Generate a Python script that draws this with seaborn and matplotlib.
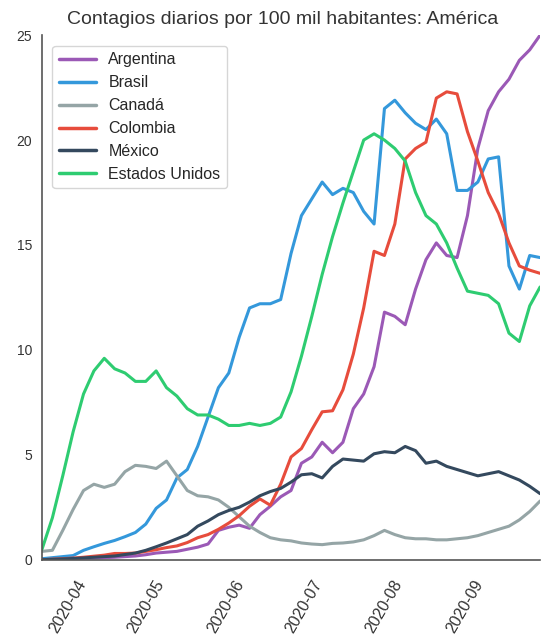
import pandas as pd
import matplotlib
matplotlib.use("Agg")
import matplotlib.pyplot as plt
import matplotlib.dates as mdates
import seaborn as sns

# Fechas (cada 4 días, del 22 de marzo al 30 de septiembre de 2020)
fechas = pd.date_range("2020-03-22", "2020-09-30", freq="4D")

paises = ["Argentina", "Brasil", "Canadá", "Colombia", "México", "Estados Unidos"]

argentina = [0.0, 0.02, 0.03, 0.05, 0.07, 0.08, 0.1, 0.12, 0.15, 0.18, 0.24, 0.32, 0.36,
             0.4, 0.5, 0.6, 0.75, 1.4, 1.55, 1.65, 1.5, 2.15, 2.55, 3.0, 3.3, 4.6, 4.9,
             5.6, 5.1, 5.6, 7.2, 7.9, 9.2, 11.8, 11.6, 11.2, 12.9, 14.3, 15.1, 14.5, 14.4,
             16.4, 19.6, 21.4, 22.3, 22.9, 23.8, 24.3, 25.0]
brasil = [0.05, 0.1, 0.15, 0.2, 0.45, 0.62, 0.78, 0.92, 1.1, 1.3, 1.7, 2.45, 2.85,
          3.9, 4.3, 5.4, 6.8, 8.2, 8.9, 10.6, 12.0, 12.2, 12.2, 12.4, 14.6, 16.4, 17.2,
          18.0, 17.4, 17.7, 17.5, 16.6, 16.0, 21.5, 21.9, 21.3, 20.8, 20.5, 21.0, 20.3,
          17.6, 17.6, 18.0, 19.1, 19.2, 14.0, 12.9, 14.5, 14.4]
canada = [0.4, 0.45, 1.4, 2.4, 3.3, 3.6, 3.45, 3.6, 4.2, 4.5, 4.45, 4.35, 4.7,
          4.0, 3.3, 3.05, 3.0, 2.85, 2.5, 2.05, 1.6, 1.3, 1.05, 0.95, 0.9, 0.8, 0.75,
          0.72, 0.78, 0.8, 0.85, 0.95, 1.15, 1.4, 1.2, 1.05, 1.0, 1.0, 0.95, 0.95,
          1.0, 1.05, 1.15, 1.3, 1.45, 1.6, 1.9, 2.3, 2.8]
colombia = [0.0, 0.03, 0.05, 0.08, 0.12, 0.17, 0.22, 0.3, 0.3, 0.32, 0.4, 0.48, 0.58,
            0.66, 0.82, 1.05, 1.2, 1.45, 1.75, 2.1, 2.55, 2.9, 2.6, 3.6, 4.9, 5.3, 6.2,
            7.05, 7.1, 8.1, 9.8, 12.0, 14.7, 14.5, 16.0, 19.1, 19.6, 19.9, 22.0, 22.3,
            22.2, 20.4, 19.0, 17.5, 16.5, 15.1, 14.0, 13.8, 13.65]
mexico = [0.0, 0.02, 0.04, 0.06, 0.09, 0.12, 0.15, 0.18, 0.25, 0.32, 0.45, 0.62, 0.8,
          1.0, 1.2, 1.6, 1.85, 2.15, 2.35, 2.5, 2.75, 3.05, 3.25, 3.4, 3.7, 4.05, 4.1,
          3.9, 4.45, 4.8, 4.75, 4.7, 5.05, 5.15, 5.1, 5.4, 5.2, 4.6, 4.7, 4.45,
          4.3, 4.15, 4.0, 4.1, 4.2, 4.0, 3.8, 3.5, 3.15]
estados_unidos = [0.5, 2.0, 4.0, 6.1, 7.9, 9.0, 9.6, 9.1, 8.9, 8.5, 8.5, 9.0, 8.2,
                  7.8, 7.2, 6.9, 6.9, 6.7, 6.4, 6.4, 6.5, 6.4, 6.5, 6.8, 8.0, 9.7, 11.6,
                  13.6, 15.4, 17.0, 18.5, 20.0, 20.3, 20.0, 19.6, 19.0, 17.5, 16.4, 16.0,
                  15.1, 13.9, 12.8, 12.7, 12.6, 12.2, 10.8, 10.4, 12.1, 13.0]

series = [argentina, brasil, canada, colombia, mexico, estados_unidos]
df = pd.concat(
    [pd.DataFrame({"fecha": fechas, "pais": p, "casos": v}) for p, v in zip(paises, series)],
    ignore_index=True,
)

sns.set_style("white")
plt.rcParams["font.family"] = ["Liberation Sans", "DejaVu Sans"]

colores = ["#9b59b6", "#3498db", "#95a5a6", "#e74c3c", "#34495e", "#2ecc71"]

fig = plt.figure(figsize=(5.42, 6.39), dpi=100)
ax = fig.add_axes([0.0775, 0.124, 0.919, 0.821])
sns.lineplot(data=df, x="fecha", y="casos", hue="pais", palette=colores,
             linewidth=2.2, ax=ax)

ax.set_xlim(fechas[0], fechas[-1])
ax.set_ylim(0, 25)
ax.set_yticks([0, 5, 10, 15, 20, 25])
ax.xaxis.set_major_locator(mdates.MonthLocator())
ax.xaxis.set_major_formatter(mdates.DateFormatter("%Y-%m"))
plt.xticks(rotation=60, fontsize=11.5)
plt.yticks(fontsize=10)
ax.tick_params(axis="x", pad=9, colors="#333333")
ax.tick_params(axis="y", colors="#333333")
ax.set_xlabel("")
ax.set_ylabel("")
ax.set_title("Contagios diarios por 100 mil habitantes: América", fontsize=14,
             color="#333333", pad=8, x=0.484)

leg = ax.legend(loc="upper left", fontsize=11.5, handlelength=2.3,
                bbox_to_anchor=(0.005, 0.995))
for linea in leg.get_lines():
    linea.set_linewidth(2.5)

sns.despine()
for s in ["left", "bottom"]:
    ax.spines[s].set_color("#555555")
    ax.spines[s].set_linewidth(1.2)

plt.savefig("out.png", dpi=100)
